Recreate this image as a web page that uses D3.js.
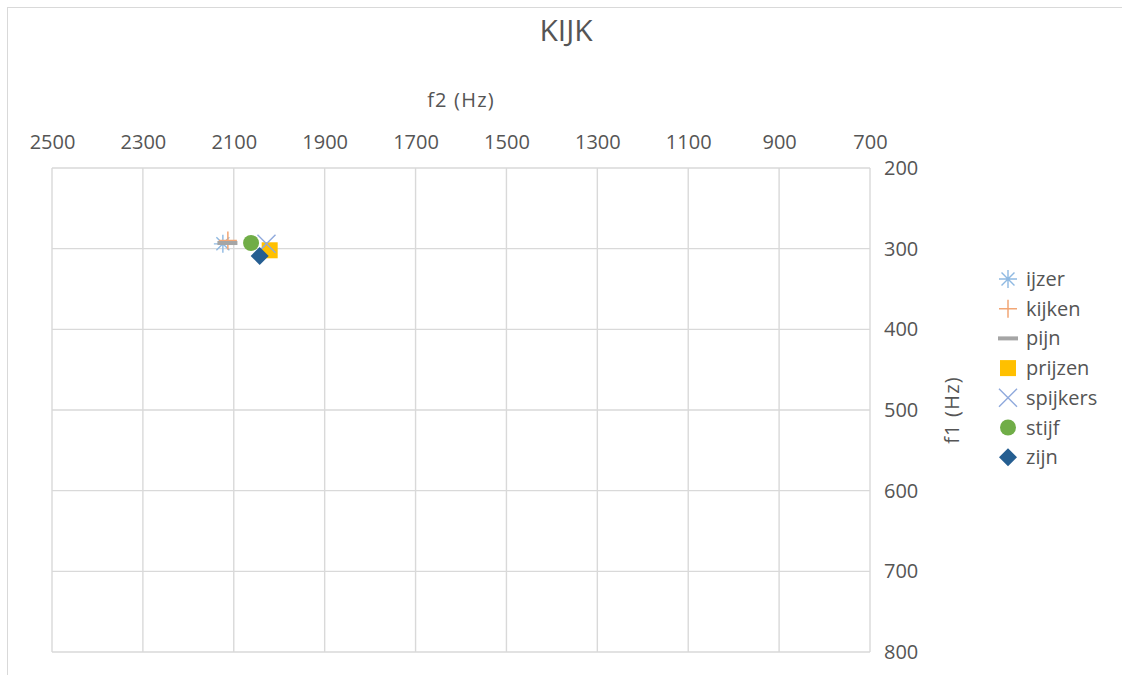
<!DOCTYPE html>
<html>
<head>
<meta charset="utf-8">
<script src="https://cdn.jsdelivr.net/npm/d3@7"></script>
<style>
  html, body { margin: 0; padding: 0; background: #ffffff; }
  svg { display: block; font-family: "Open Sans", "Noto Sans", sans-serif; }
</style>
</head>
<body>
<svg id="chart" width="1122" height="675"></svg>
<script>
// ---- data ----
const title = "KIJK";
const xTitle = "f2 (Hz)";
const yTitle = "f1 (Hz)";
const seriesNames = ["ijzer", "kijken", "pijn", "prijzen", "spijkers", "stijf", "zijn"];
const f2Values = [2124, 2113, 2114, 2021, 2028, 2062, 2043];
const f1Values = [294, 290, 293, 302, 294, 293, 309];
const xTicks = [2500, 2300, 2100, 1900, 1700, 1500, 1300, 1100, 900, 700];
const yTicks = [200, 300, 400, 500, 600, 700, 800];
const seriesColors = ["#8fb9e2", "#f2a675", "#a5a5a5", "#ffc000", "#8fa9dc", "#70ad47", "#255e91"];
const seriesShapes = ["asterisk", "plus", "dash", "square", "cross", "circle", "diamond"];

// ---- layout ----
const svg = d3.select("#chart");
const plot = { left: 52, right: 870, top: 168, bottom: 652 };
const x = d3.scaleLinear().domain([2500, 700]).range([plot.left, plot.right]);
const y = d3.scaleLinear().domain([200, 800]).range([plot.top, plot.bottom]);
const textColor = "#555555";
const gridColor = "#d9d9d9";

// outer chart border (partially visible)
svg.append("rect")
  .attr("x", 7.5).attr("y", 7.5)
  .attr("width", 1300).attr("height", 800)
  .attr("fill", "none").attr("stroke", gridColor).attr("stroke-width", 1);

// gridlines
const grid = svg.append("g");
grid.selectAll("line.v").data(xTicks).join("line")
  .attr("x1", d => x(d)).attr("x2", d => x(d))
  .attr("y1", plot.top).attr("y2", plot.bottom)
  .attr("stroke", gridColor).attr("stroke-width", 1.4);
grid.selectAll("line.h").data(yTicks).join("line")
  .attr("x1", plot.left).attr("x2", plot.right)
  .attr("y1", d => y(d)).attr("y2", d => y(d))
  .attr("stroke", gridColor).attr("stroke-width", 1.4);

// top axis (f2)
const xAxis = d3.axisTop(x).tickValues(xTicks).tickSize(0).tickPadding(0).tickFormat(d3.format("d"));
const gx = svg.append("g").attr("transform", `translate(0,${plot.top - 19})`).call(xAxis);
gx.select(".domain").remove();
gx.selectAll("text").attr("fill", textColor).attr("font-size", 20)
  .attr("font-family", "'Open Sans', sans-serif").attr("dy", 0);

// right axis (f1)
const yAxis = d3.axisRight(y).tickValues(yTicks).tickSize(0).tickPadding(0).tickFormat(d3.format("d"));
const gy = svg.append("g").attr("transform", `translate(${plot.right + 14},0)`).call(yAxis);
gy.select(".domain").remove();
gy.selectAll("text").attr("fill", textColor).attr("font-size", 20)
  .attr("font-family", "'Open Sans', sans-serif");

// titles
svg.append("text").attr("x", 566).attr("y", 41).attr("text-anchor", "middle")
  .attr("fill", textColor).attr("font-size", 30).text(title);
svg.append("text").attr("x", 461).attr("y", 107).attr("text-anchor", "middle")
  .attr("fill", textColor).attr("font-size", 20).attr("letter-spacing", 1.2).text(xTitle);
svg.append("text").attr("transform", `translate(959,${(plot.top + plot.bottom) / 2}) rotate(-90)`)
  .attr("text-anchor", "middle").attr("fill", textColor).attr("font-size", 20)
  .attr("letter-spacing", 1.2).text(yTitle);

// marker drawing
function drawMarker(g, shape, color) {
  const s = 9;
  if (shape === "asterisk") {
    g.append("path").attr("d", `M${-s},0L${s},0M0,${-s}L0,${s}M${-s*0.72},${-s*0.72}L${s*0.72},${s*0.72}M${-s*0.72},${s*0.72}L${s*0.72},${-s*0.72}`)
      .attr("stroke", color).attr("stroke-width", 1.4).attr("fill", "none");
  } else if (shape === "plus") {
    g.append("path").attr("d", `M${-s},0L${s},0M0,${-s}L0,${s}`)
      .attr("stroke", color).attr("stroke-width", 1.5).attr("fill", "none");
  } else if (shape === "dash") {
    g.append("rect").attr("x", -10).attr("y", -2).attr("width", 20).attr("height", 4).attr("fill", color);
  } else if (shape === "square") {
    g.append("rect").attr("x", -8).attr("y", -8).attr("width", 16).attr("height", 16).attr("fill", color);
  } else if (shape === "cross") {
    g.append("path").attr("d", `M${-s},${-s}L${s},${s}M${-s},${s}L${s},${-s}`)
      .attr("stroke", color).attr("stroke-width", 1.4).attr("fill", "none");
  } else if (shape === "circle") {
    g.append("circle").attr("r", 8).attr("fill", color);
  } else if (shape === "diamond") {
    g.append("path").attr("d", "M0,-9L9,0L0,9L-9,0Z").attr("fill", color);
  }
}

// points
const points = svg.append("g");
seriesNames.forEach((name, i) => {
  const g = points.append("g").attr("transform", `translate(${x(f2Values[i])},${y(f1Values[i])})`);
  drawMarker(g, seriesShapes[i], seriesColors[i]);
});

// legend
const legend = svg.append("g");
seriesNames.forEach((name, i) => {
  const cy = 279 + i * 29.7;
  const g = legend.append("g").attr("transform", `translate(1008,${cy})`);
  drawMarker(g, seriesShapes[i], seriesColors[i]);
  legend.append("text").attr("x", 1026).attr("y", cy).attr("dy", "0.35em")
    .attr("fill", textColor).attr("font-size", 20).text(name);
});
</script>
</body>
</html>
